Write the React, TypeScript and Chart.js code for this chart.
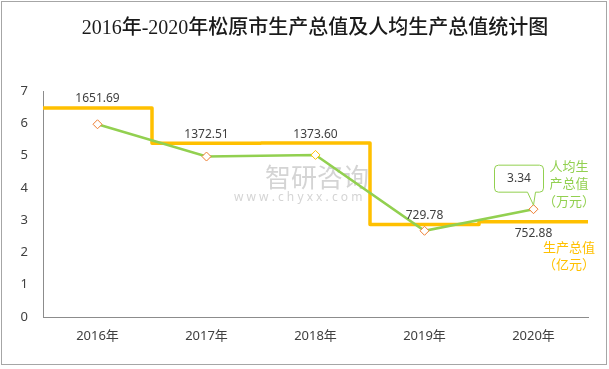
import React, { useEffect, useRef } from 'react';
import { Chart, registerables } from 'chart.js';
Chart.register(...registerables);

const titleText = '2016年-2020年松原市生产总值及人均生产总值统计图';
const years = ['2016年', '2017年', '2018年', '2019年', '2020年'];
const gdp = [1651.69, 1372.51, 1373.6, 729.78, 752.88]; // 亿元
const perCapita = [5.97, 4.97, 5.02, 2.67, 3.34]; // 万元
const yTicks = [0, 1, 2, 3, 4, 5, 6, 7];
const perCapitaLegend = ['人均生', '产总值', '（万元）'];
const gdpLegend = ['生产总值', '（亿元）'];
const watermark = '智研咨询';
const watermarkUrl = 'w w w . c h y x x . c o m';

const FONT = '"Noto Sans", "Noto Sans CJK SC", sans-serif';
const GREEN = '#92D050';
const YELLOW = '#FFC000';
const ORANGE = '#ED7D31';

const decorPlugin = {
  id: 'decor',
  beforeDatasetsDraw(chart: any) {
    const ctx = chart.ctx;
    ctx.save();
    ctx.fillStyle = 'rgba(160,160,160,0.45)';
    ctx.textAlign = 'left';
    ctx.textBaseline = 'middle';
    ctx.font = '26px "Noto Sans CJK SC", sans-serif';
    ctx.fillText(watermark, 265, 177);
    ctx.font = '12px ' + FONT;
    ctx.fillText(watermarkUrl, 234, 198);
    ctx.restore();
  },
  afterDatasetsDraw(chart: any) {
    const ctx = chart.ctx;
    const x = chart.scales.x;
    const y = chart.scales.y;
    const y2 = chart.scales.y2;
    ctx.save();
    ctx.font = '12px ' + FONT;
    ctx.fillStyle = '#404040';
    ctx.textAlign = 'center';
    ctx.textBaseline = 'middle';
    gdp.forEach((v, i) => {
      const px = x.getPixelForValue(i);
      const py = y2.getPixelForValue(v);
      const last = i === gdp.length - 1;
      ctx.fillText(v.toFixed(2), px, last ? py + 12 : py - 9);
    });

    // callout for last per-capita value
    const li = perCapita.length - 1;
    const px = x.getPixelForValue(li);
    const py = y.getPixelForValue(perCapita[li]);
    const bw = 49, bh = 27, r = 4;
    const bx = px - 39, by = py - 44;
    const bb = by + bh;
    ctx.beginPath();
    ctx.moveTo(bx + r, by);
    ctx.lineTo(bx + bw - r, by);
    ctx.quadraticCurveTo(bx + bw, by, bx + bw, by + r);
    ctx.lineTo(bx + bw, bb - r);
    ctx.quadraticCurveTo(bx + bw, bb, bx + bw - r, bb);
    ctx.lineTo(px + 2, bb);
    ctx.lineTo(px, py - 4);
    ctx.lineTo(px - 6, bb);
    ctx.lineTo(bx + r, bb);
    ctx.quadraticCurveTo(bx, bb, bx, bb - r);
    ctx.lineTo(bx, by + r);
    ctx.quadraticCurveTo(bx, by, bx + r, by);
    ctx.closePath();
    ctx.fillStyle = '#ffffff';
    ctx.fill();
    ctx.strokeStyle = GREEN;
    ctx.lineWidth = 1;
    ctx.stroke();
    ctx.fillStyle = '#404040';
    ctx.fillText(perCapita[li].toFixed(2), bx + bw / 2, by + bh / 2);

    // side legends
    const cx = chart.chartArea.right - 19;
    ctx.font = '13px ' + FONT;
    ctx.fillStyle = GREEN;
    perCapitaLegend.forEach((t, i) => ctx.fillText(t, cx, 167 + i * 17.5));
    ctx.fillStyle = YELLOW;
    gdpLegend.forEach((t, i) => ctx.fillText(t, cx, 248 + i * 17.5));
    ctx.restore();
  },
  afterDraw(chart: any) {
    const ctx = chart.ctx;
    ctx.save();
    ctx.strokeStyle = '#A6A6A6';
    ctx.lineWidth = 1;
    ctx.strokeRect(1.5, 1.5, 605, 363);
    ctx.font = '500 20px "Liberation Serif", "Noto Sans CJK SC", serif';
    ctx.fillStyle = '#1a1a1a';
    ctx.textAlign = 'center';
    ctx.textBaseline = 'middle';
    ctx.fillText(titleText, 315, 29);
    ctx.restore();
  },
};

export default function App() {
  const ref = useRef<HTMLCanvasElement | null>(null);
  useEffect(() => {
    document.body.style.margin = '0';
    const canvas = ref.current!;
    const stepData = gdp.map((v, i) => ({ x: i - 0.5, y: v }));
    stepData.push({ x: gdp.length - 0.5, y: gdp[gdp.length - 1] });
    const chart = new Chart(canvas, {
      type: 'line',
      data: {
        datasets: [
          {
            label: '人均生产总值（万元）',
            data: perCapita.map((v, i) => ({ x: i, y: v })),
            borderColor: GREEN,
            borderWidth: 2.5,
            pointStyle: 'rectRot',
            pointRadius: 4.5,
            pointBackgroundColor: '#ffffff',
            pointBorderColor: [ORANGE, ORANGE, YELLOW, ORANGE, ORANGE],
            pointBorderWidth: 1,
            yAxisID: 'y',
            xAxisID: 'x',
          },
          {
            label: '生产总值（亿元）',
            data: stepData,
            borderColor: YELLOW,
            borderWidth: 3.5,
            stepped: 'before',
            pointRadius: 0,
            borderJoinStyle: 'round',
            yAxisID: 'y2',
            xAxisID: 'x',
          },
        ],
      } as any,
      options: {
        responsive: false,
        animation: false,
        layout: { padding: { top: 91, left: 0, right: 21, bottom: 22 } },
        plugins: {
          legend: { display: false },
          tooltip: { enabled: false },
          title: { display: false },
        },
        scales: {
          x: {
            type: 'linear',
            min: -0.5,
            max: years.length - 0.5,
            afterBuildTicks: (s: any) => {
              s.ticks = years.map((_, i) => ({ value: i }));
            },
            afterFit: (s: any) => {
              s.height = 30;
            },
            ticks: {
              callback: (v: any) => years[v] ?? '',
              font: { family: FONT, size: 13 },
              color: '#404040',
              padding: 11,
              autoSkip: false,
              maxRotation: 0,
            },
            grid: { display: false, drawTicks: false },
            border: { display: true, color: '#8C8C8C', width: 1 },
          },
          y: {
            min: 0,
            max: 7,
            afterBuildTicks: (s: any) => {
              s.ticks = yTicks.map((v) => ({ value: v }));
            },
            afterFit: (s: any) => {
              s.width = 43;
            },
            ticks: {
              font: { family: FONT, size: 13 },
              color: '#404040',
              padding: 15,
            },
            grid: { display: false, drawTicks: false },
            border: { display: true, color: '#8C8C8C', width: 1 },
          },
          y2: {
            display: false,
            min: 0,
            max: 1785,
          },
        },
      } as any,
      plugins: [decorPlugin],
    });
    return () => chart.destroy();
  }, []);
  return (
    <div style={{ width: 609, height: 369 }}>
      <canvas ref={ref} width={609} height={369} />
    </div>
  );
}
